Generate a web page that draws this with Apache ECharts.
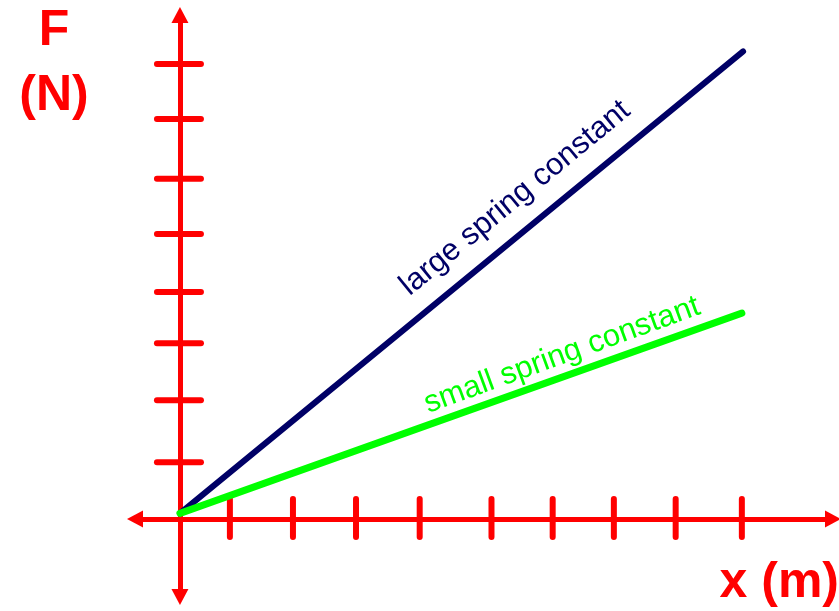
<!DOCTYPE html>
<html>
<head>
<meta charset="utf-8">
<script src="https://cdn.jsdelivr.net/npm/echarts@6/dist/echarts.min.js"></script>
<style>html,body{margin:0;padding:0;background:#fff}#c{width:839px;height:611px}</style>
</head>
<body>
<div id="c"></div>
<script>
// Data
var xTicks = [0.80, 1.81, 2.82, 3.84, 4.99, 5.97, 6.95, 7.94, 9.0];
var yTicks = [1.0, 2.09, 3.09, 3.99, 5.01, 5.98, 7.03, 8.0];
var largeX = [0, 9.02];
var largeF = [0.1, 8.22];
var smallX = [0, 9.0];
var smallF = [0.1, 3.62];
var largeLabel = 'large spring constant';
var smallLabel = 'small spring constant';
var yName = ['F', '(N)'];
var xName = 'x (m)';

var RED = '#ff0000', NAVY = '#000066', GREEN = '#00ff00';
var FONT = '"Liberation Sans", Arial, sans-serif';

function pairs(xs, ys) { return xs.map(function (x, i) { return [x, ys[i]]; }); }

var chart = echarts.init(document.getElementById('c'), null, {renderer: 'canvas'});

var axisCommon = {
  type: 'value',
  splitLine: {show: false},
  axisLabel: {show: false},
  axisTick: {show: false},
  axisLine: {
    show: true, onZero: true,
    symbol: ['triangle', 'triangle'],
    symbolSize: [17, 16],
    lineStyle: {color: RED, width: 5}
  }
};

chart.setOption({
  animation: false,
  backgroundColor: '#fff',
  grid: {left: 135, right: 6, top: 15, bottom: 14},
  xAxis: Object.assign({}, axisCommon, {min: -0.72, max: 10.46}),
  yAxis: Object.assign({}, axisCommon, {min: -1.37, max: 8.86}),
  series: [
    {
      type: 'custom', z: 1, silent: true,
      data: xTicks.map(function (v) { return [v, 0]; }),
      renderItem: function (params, api) {
        var p = api.coord([api.value(0), api.value(1)]);
        return {type: 'line', shape: {x1: p[0], y1: p[1] - 20, x2: p[0], y2: p[1] + 18},
          style: {stroke: RED, lineWidth: 6, lineCap: 'round'}};
      }
    },
    {
      type: 'custom', z: 1, silent: true,
      data: yTicks.map(function (v) { return [0, v]; }),
      renderItem: function (params, api) {
        var p = api.coord([api.value(0), api.value(1)]);
        return {type: 'line', shape: {x1: p[0] - 23, y1: p[1], x2: p[0] + 21, y2: p[1]},
          style: {stroke: RED, lineWidth: 6, lineCap: 'round'}};
      }
    },
    {
      type: 'line', z: 3, symbol: 'none', silent: true,
      data: pairs(largeX, largeF),
      lineStyle: {color: NAVY, width: 6, cap: 'round'}
    },
    {
      type: 'line', z: 4, symbol: 'none', silent: true,
      data: pairs(smallX, smallF),
      lineStyle: {color: GREEN, width: 7, cap: 'round'}
    }
  ]
});

var pL = chart.convertToPixel({gridIndex: 0}, [5.37, 5.64]);
var pS = chart.convertToPixel({gridIndex: 0}, [6.12, 2.88]);

chart.setOption({
  graphic: [
    {type: 'text', x: pL[0], y: pL[1], rotation: 39.5 * Math.PI / 180, z: 10,
      style: {text: largeLabel, fill: NAVY, font: '31px ' + FONT, textAlign: 'center', textVerticalAlign: 'middle'}},
    {type: 'text', x: pS[0], y: pS[1], rotation: 20 * Math.PI / 180, z: 10,
      style: {text: smallLabel, fill: GREEN, font: '31px ' + FONT, textAlign: 'center', textVerticalAlign: 'middle'}},
    {type: 'text', x: 54, y: 31, z: 10,
      style: {text: yName[0], fill: RED, font: 'bold 50px ' + FONT, textAlign: 'center', textVerticalAlign: 'middle'}},
    {type: 'text', x: 54, y: 96, z: 10,
      style: {text: yName[1], fill: RED, font: 'bold 50px ' + FONT, textAlign: 'center', textVerticalAlign: 'middle'}},
    {type: 'text', x: 839, y: 583, z: 10,
      style: {text: xName, fill: RED, font: 'bold 50px ' + FONT, textAlign: 'right', textVerticalAlign: 'middle'}}
  ]
});
</script>
</body>
</html>
